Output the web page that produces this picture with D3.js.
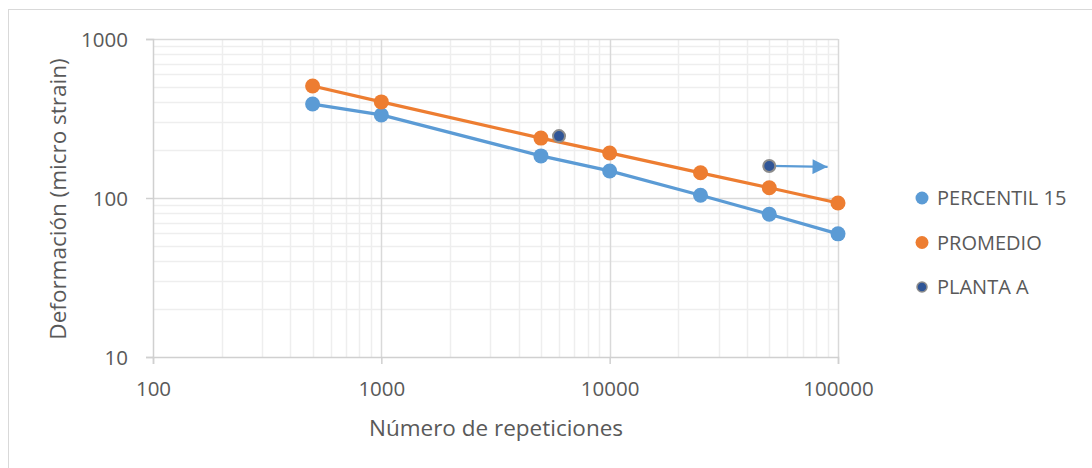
<!DOCTYPE html>
<html>
<head>
<meta charset="utf-8">
<script src="https://cdn.jsdelivr.net/npm/d3@7"></script>
<style>
  body { margin: 0; background: #fff; }
  text { font-family: "Open Sans", sans-serif; fill: #595959; }
</style>
</head>
<body>
<div id="chart"></div>
<script>
// data
var repeticiones = [500, 1000, 5000, 10000, 25000, 50000, 100000]
var percentil15 = [390, 333, 184, 148, 104, 79, 59.5]
var promedio = [506, 402, 238, 192, 144, 116, 93]
var plantaX = [6000, 50000]
var plantaY = [245, 159]
var flechaX = [50000, 90000]
var flechaY = [159, 157]
var xTicks = [100, 1000, 10000, 100000]
var yTicks = [10, 100, 1000]
var series = ["PERCENTIL 15", "PROMEDIO", "PLANTA A"]

var W = 1092, H = 468
var margin = { top: 39, right: 254, bottom: 111, left: 153 }
    h = H - margin.top - margin.bottom
    w = W - margin.left - margin.right

var root = d3.select("#chart").append("svg")
    .attr("width", W)
    .attr("height", H)

// chart frame (clipped by the window on right/bottom)
root.append("rect")
    .attr("x", 8.5).attr("y", 9.5)
    .attr("width", W + 10).attr("height", H + 10)
    .attr("fill", "none")
    .attr("stroke", "#d9d9d9")

var svg = root.append("g")
    .attr("transform", "translate(" + margin.left + "," + margin.top + ")")

var x = d3.scaleLog().domain([100, 100000]).range([0, w])
var y = d3.scaleLog().domain([10, 1000]).range([h, 0])

// minor gridlines
function minors(lo, hi) {
    var out = []
    for (var d = lo; d < hi; d *= 10)
        for (var k = 2; k <= 9; k++) out.push(d * k)
    return out
}
svg.selectAll(".gx").data(minors(100, 100000)).enter().append("line")
    .attr("x1", function(d){ return Math.round(x(d)) + 0.5 })
    .attr("x2", function(d){ return Math.round(x(d)) + 0.5 })
    .attr("y1", 0).attr("y2", h)
    .attr("stroke", "#eeeeee").attr("stroke-width", 1.5)
svg.selectAll(".gy").data(minors(10, 1000)).enter().append("line")
    .attr("y1", function(d){ return Math.round(y(d)) + 0.5 })
    .attr("y2", function(d){ return Math.round(y(d)) + 0.5 })
    .attr("x1", 0).attr("x2", w)
    .attr("stroke", "#eeeeee").attr("stroke-width", 1.5)
// major gridlines
svg.selectAll(".mx").data(xTicks.slice(1)).enter().append("line")
    .attr("x1", function(d){ return Math.round(x(d)) + 0.5 })
    .attr("x2", function(d){ return Math.round(x(d)) + 0.5 })
    .attr("y1", 0).attr("y2", h)
    .attr("stroke", "#d9d9d9").attr("stroke-width", 1.5)
svg.selectAll(".my").data(yTicks.slice(1)).enter().append("line")
    .attr("y1", function(d){ return Math.round(y(d)) + 0.5 })
    .attr("y2", function(d){ return Math.round(y(d)) + 0.5 })
    .attr("x1", 0).attr("x2", w)
    .attr("stroke", "#d9d9d9").attr("stroke-width", 1.5)

// axes
var xax = svg.append("g")
    .attr("transform", "translate(0," + h + ")")
    .call(d3.axisBottom(x).tickValues(xTicks).tickFormat(d3.format("d")).tickSize(7).tickPadding(17))
var yax = svg.append("g")
    .call(d3.axisLeft(y).tickValues(yTicks).tickFormat(d3.format("d")).tickSize(7).tickPadding(18))
root.selectAll(".domain, .tick line").attr("stroke", "#d0d0d0").attr("stroke-width", 1.5)
root.selectAll(".tick text")
    .style("font-family", "'Open Sans', sans-serif")
    .style("font-size", "20.5px")
    .attr("fill", "#595959")
yax.selectAll(".tick text").attr("dy", "0.36em")

// lines + points
var line = d3.line()
    .x(function(d){ return x(d[0]) })
    .y(function(d){ return y(d[1]) })

var lineas = [
    { name: series[0], vals: percentil15, color: "#5b9bd5" },
    { name: series[1], vals: promedio, color: "#ed7d31" }
]
lineas.forEach(function(s) {
    var pts = d3.zip(repeticiones, s.vals)
    svg.append("path")
        .datum(pts)
        .attr("d", line)
        .attr("fill", "none")
        .attr("stroke", s.color)
        .attr("stroke-width", 3.25)
    svg.selectAll(null).data(pts).enter().append("circle")
        .attr("cx", function(d){ return x(d[0]) })
        .attr("cy", function(d){ return y(d[1]) })
        .attr("r", 7.5)
        .attr("fill", s.color)
})

// arrow annotation
var defs = root.append("defs")
defs.append("marker")
    .attr("id", "head")
    .attr("viewBox", "0 0 10 10")
    .attr("refX", 10).attr("refY", 5)
    .attr("markerWidth", 16).attr("markerHeight", 15)
    .attr("markerUnits", "userSpaceOnUse")
    .attr("orient", "auto")
    .append("path").attr("d", "M0,0L10,5L0,10Z").attr("fill", "#5b9bd5")
svg.append("line")
    .attr("x1", x(flechaX[0])).attr("y1", y(flechaY[0]))
    .attr("x2", x(flechaX[1])).attr("y2", y(flechaY[1]))
    .attr("stroke", "#5b9bd5").attr("stroke-width", 2.25)
    .attr("marker-end", "url(#head)")

// planta A points
svg.selectAll(".planta").data(d3.zip(plantaX, plantaY)).enter().append("circle")
    .attr("cx", function(d){ return x(d[0]) })
    .attr("cy", function(d){ return y(d[1]) })
    .attr("r", 6)
    .attr("fill", "#2f5597")
    .attr("stroke", "#8c8c8c")
    .attr("stroke-width", 2)

// axis titles
root.append("text")
    .attr("x", 496).attr("y", 436)
    .attr("text-anchor", "middle")
    .style("font-size", "22.5px")
    .text("Número de repeticiones")
root.append("text")
    .attr("transform", "translate(66,199) rotate(-90)")
    .attr("text-anchor", "middle")
    .style("font-size", "22.5px")
    .text("Deformación (micro strain)")

// legend
var legColors = ["#5b9bd5", "#ed7d31", "#2f5597"]
var leg = root.append("g").attr("transform", "translate(922,198)")
series.forEach(function(s, i) {
    var g = leg.append("g").attr("transform", "translate(0," + (i * 44.5) + ")")
    g.append("circle")
        .attr("r", i == 2 ? 5 : 6.5)
        .attr("fill", legColors[i])
        .attr("stroke", i == 2 ? "#8c8c8c" : "none")
        .attr("stroke-width", 1.5)
    g.append("text")
        .attr("x", 15).attr("dy", "0.36em")
        .style("font-size", "20px")
        .text(s)
})
</script>
</body>
</html>
